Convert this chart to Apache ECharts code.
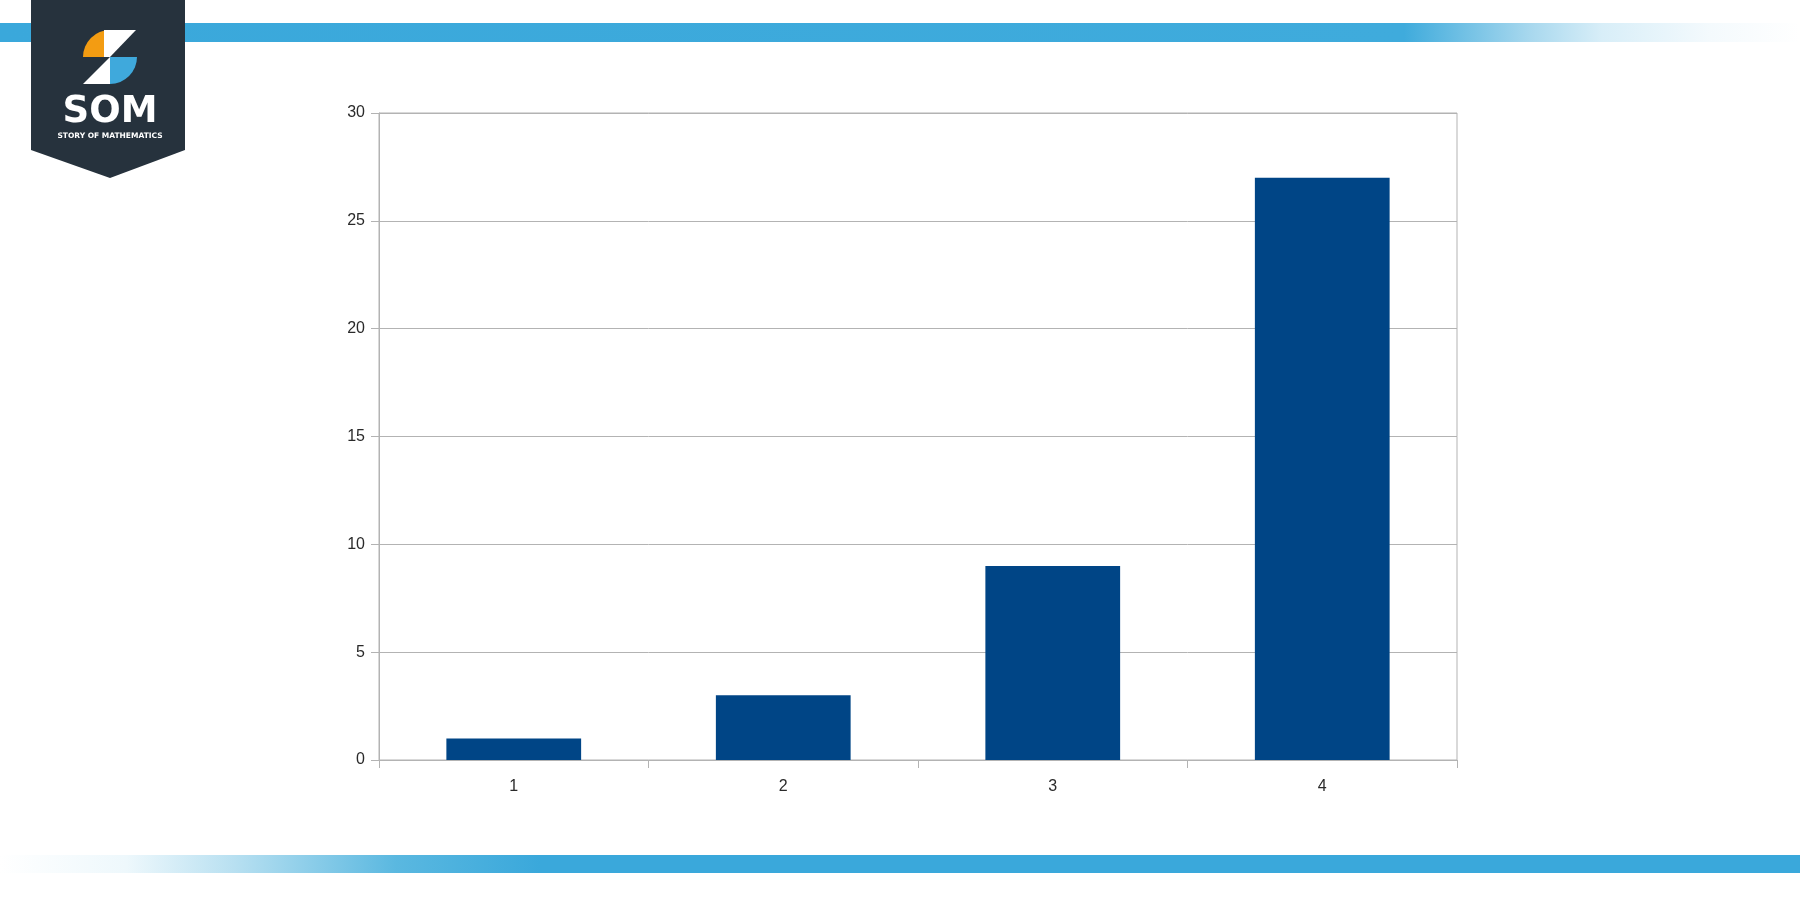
<!DOCTYPE html>
<html>
<head>
<meta charset="utf-8">
<script src="https://cdn.jsdelivr.net/npm/echarts@6/dist/echarts.min.js"></script>
<style>
html,body{margin:0;padding:0;background:#fff;}
#chart{width:1800px;height:900px;}
</style>
</head>
<body>
<div id="chart"></div>
<script>
const categories = ['1', '2', '3', '4'];
const values = [1, 3, 9, 27];
const yTicks = { min: 0, max: 30, interval: 5 };

const chart = echarts.init(document.getElementById('chart'), null, { renderer: 'canvas' });
const gridColor = '#b3b3b3';
const textStyle = { color: '#2a2a2a', fontFamily: 'Liberation Sans, Arial, sans-serif', fontSize: 16 };

chart.setOption({
  backgroundColor: '#ffffff',
  animation: false,
  grid: { left: 379, right: 343, top: 113, bottom: 140, show: true, borderColor: gridColor, borderWidth: 1 },
  xAxis: {
    type: 'category',
    data: categories,
    axisLine: { show: true, lineStyle: { color: gridColor } },
    axisTick: { show: true, length: 8, alignWithLabel: false, lineStyle: { color: gridColor } },
    axisLabel: Object.assign({ margin: 19 }, textStyle),
    splitLine: { show: false }
  },
  yAxis: {
    type: 'value',
    min: yTicks.min, max: yTicks.max, interval: yTicks.interval,
    axisLine: { show: true, lineStyle: { color: gridColor } },
    axisTick: { show: true, length: 8, lineStyle: { color: gridColor } },
    axisLabel: Object.assign({ margin: 14 }, textStyle),
    splitLine: { show: true, lineStyle: { color: gridColor } }
  },
  series: [{
    type: 'bar',
    data: values,
    barWidth: '50%',
    itemStyle: { color: '#004586' }
  }],
  graphic: [
    { type: 'rect', z: 0, shape: { x: 0, y: 23, width: 1800, height: 19 },
      style: { fill: new echarts.graphic.LinearGradient(0, 0, 1, 0, [
        { offset: 0, color: '#3aa8db' }, { offset: 0.78, color: '#3fabdc' },
        { offset: 0.85, color: '#a8d8ee' }, { offset: 0.89, color: '#d8eef8' },
        { offset: 0.95, color: '#f4fafd' }, { offset: 1, color: '#ffffff' }]) } },
    { type: 'rect', z: 0, shape: { x: 0, y: 855, width: 1800, height: 18 },
      style: { fill: new echarts.graphic.LinearGradient(0, 0, 1, 0, [
        { offset: 0, color: '#ffffff' }, { offset: 0.07, color: '#eef8fc' },
        { offset: 0.13, color: '#b8e0f1' }, { offset: 0.22, color: '#5ab8e0' },
        { offset: 0.3, color: '#3aa8db' }, { offset: 1, color: '#3aa8db' }]) } },
    { type: 'polygon', z: 10, shape: { points: [[31, 0], [185, 0], [185, 150], [110, 178], [31, 150]] },
      style: { fill: '#26323d' } },
    { type: 'sector', z: 11, shape: { cx: 110, cy: 57, r: 27, startAngle: Math.PI, endAngle: Math.PI * 1.5 },
      style: { fill: '#f39c12' } },
    { type: 'polygon', z: 12, shape: { points: [[104, 30], [136, 30], [110, 57], [104, 57]] },
      style: { fill: '#ffffff' } },
    { type: 'sector', z: 11, shape: { cx: 110, cy: 57, r: 27, startAngle: 0, endAngle: Math.PI * 0.5 },
      style: { fill: '#3fa9dc' } },
    { type: 'polygon', z: 12, shape: { points: [[83, 84], [110, 57], [110, 84]] },
      style: { fill: '#ffffff' } },
    { type: 'text', z: 12, style: { x: 110, y: 112, text: 'SOM', fill: '#ffffff', font: 'bold 37px "DejaVu Sans", sans-serif', align: 'center', verticalAlign: 'middle' } },
    { type: 'text', z: 12, style: { x: 110, y: 136, text: 'STORY OF MATHEMATICS', fill: '#ffffff', font: 'bold 7.5px "DejaVu Sans", sans-serif', align: 'center', verticalAlign: 'middle' } }
  ]
});
</script>
</body>
</html>
